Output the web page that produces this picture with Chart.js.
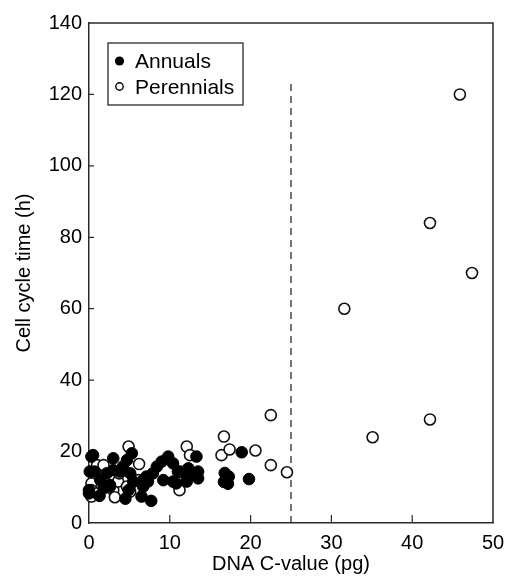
<!DOCTYPE html>
<html>
<head>
<meta charset="utf-8">
<script src="https://cdn.jsdelivr.net/npm/chart.js@4.4.1/dist/chart.umd.min.js"></script>
<style>
  html, body { margin: 0; padding: 0; background: #fff; }
  #wrap { width: 506px; height: 576px; position: relative; }
</style>
</head>
<body>
<div id="wrap"><canvas id="c" width="506" height="576"></canvas></div>
<script>
// ---- data ----
const seriesNames = ['Annuals', 'Perennials'];
const xTitle = 'DNA C-value (pg)';
const yTitle = 'Cell cycle time (h)';
const xRange = [0, 50];
const yRange = [0, 140];
const xStep = 10;
const yStep = 20;
const dividerX = 25;      // dashed threshold line position (pg)
const dividerTop = 124;   // dashed line upper end (h)

const annualsX = [0, 0, 0.5, 0.3, 0.7, 0.1, 1.4, 1.3, 1.8, 2.2, 2.6, 2.6, 3.0, 3.0, 3.8, 4.2,
  4.5, 4.7, 4.9, 5.1, 5.3, 5.5, 6.5, 6.7, 6.7, 7.1, 7.3, 7.7, 7.9, 8.4, 9.0, 9.2, 9.8,
  10.4, 10.4, 10.8, 11.0, 11.3, 12.1, 12.1, 12.3, 12.5, 13.3, 13.5, 13.5,
  16.7, 16.8, 17.3, 16.9, 17.2, 18.9, 19.8];
const annualsY = [8.3, 9.2, 19, 18.6, 14.4, 14.4, 12, 7.6, 9.7, 13.9, 10.6, 10.2, 14.8, 18.1, 14.4, 15.8,
  6.8, 17.6, 9.2, 13.9, 19.5, 11.6, 7.4, 10.2, 12, 13, 11.6, 6.2, 13.9, 15.8, 17.2, 12, 18.6,
  16.7, 11.6, 11.1, 14.4, 14.4, 11.6, 13, 15.3, 13.9, 18.6, 14.4, 12.5,
  11.5, 14, 13, 12, 11, 19.8, 12.3];

const perennialsX = [0.3, 0.3, 0.3, 1.0, 1.0, 1.8, 3.0, 3.2, 3.6, 3.75, 4.7, 4.9, 5.1, 5.5, 6.1, 6.2,
  11.2, 12.1, 12.5, 16.4, 16.7, 17.4, 20.6, 22.5, 22.5, 24.5,
  31.6, 35.1, 42.2, 42.2, 45.9, 47.4];
const perennialsY = [11.1, 9.2, 7.4, 8.3, 16.2, 16.2, 9.2, 7.2, 11.6, 13.9, 10.2, 21.4, 8.8, 11.6, 12, 16.5,
  9.2, 21.4, 19, 19, 24.2, 20.6, 20.3, 16.2, 30.2, 14.2,
  60, 24, 29, 84, 120, 70];

// ---- build chart ----
const toPoints = (xs, ys) => xs.map((x, i) => ({ x: x, y: ys[i] }));
const FONT = "'Liberation Sans', Arial, Helvetica, sans-serif";
const AXIS_COLOR = '#2a2a2a';

const framePlugin = {
  id: 'frame',
  beforeDatasetsDraw(chart) {
    const { ctx, chartArea: a, scales } = chart;
    ctx.save();
    ctx.strokeStyle = AXIS_COLOR;
    ctx.lineWidth = 1.5;
    ctx.beginPath();
    ctx.moveTo(a.left, a.top);
    ctx.lineTo(a.right, a.top);
    ctx.lineTo(a.right, a.bottom);
    ctx.stroke();
    ctx.lineWidth = 1.2;
    ctx.beginPath();
    scales.x.ticks.forEach(t => {
      const px = scales.x.getPixelForValue(t.value);
      if (t.value === xRange[0] || t.value === xRange[1]) return;
      ctx.moveTo(px, a.bottom);
      ctx.lineTo(px, a.bottom - 8);
    });
    scales.y.ticks.forEach(t => {
      const py = scales.y.getPixelForValue(t.value);
      if (t.value === yRange[0] || t.value === yRange[1]) return;
      ctx.moveTo(a.left, py);
      ctx.lineTo(a.left + 5, py);
    });
    ctx.stroke();
    const dx = scales.x.getPixelForValue(dividerX);
    ctx.setLineDash([7, 5]);
    ctx.lineWidth = 1.3;
    ctx.beginPath();
    ctx.moveTo(dx, scales.y.getPixelForValue(0));
    ctx.lineTo(dx, scales.y.getPixelForValue(dividerTop));
    ctx.stroke();
    ctx.restore();
  },
  afterDraw(chart) {
    const { ctx, chartArea: a } = chart;
    const bx = a.left + 19, by = a.top + 20, bw = 135, bh = 62;
    ctx.save();
    ctx.fillStyle = '#fff';
    ctx.fillRect(bx, by, bw, bh);
    ctx.strokeStyle = AXIS_COLOR;
    ctx.lineWidth = 1.3;
    ctx.strokeRect(bx, by, bw, bh);
    ctx.font = "21px " + FONT;
    ctx.fillStyle = '#000';
    ctx.textBaseline = 'alphabetic';
    chart.data.datasets.forEach((ds, i) => {
      const cy = by + 18 + i * 25.5;
      ctx.beginPath();
      if (i === 0) {
        ctx.arc(bx + 11.5, cy, 4.6, 0, Math.PI * 2);
        ctx.fillStyle = '#000';
        ctx.fill();
      } else {
        ctx.arc(bx + 11.5, cy, 3.7, 0, Math.PI * 2);
        ctx.fillStyle = '#fff';
        ctx.fill();
        ctx.lineWidth = 1.4;
        ctx.strokeStyle = '#000';
        ctx.stroke();
      }
      ctx.fillStyle = '#000';
      ctx.fillText(ds.label, bx + 27, cy + 7);
    });
    ctx.restore();
  }
};

new Chart(document.getElementById('c'), {
  type: 'scatter',
  data: {
    datasets: [
      {
        label: seriesNames[0],
        data: toPoints(annualsX, annualsY),
        backgroundColor: '#000',
        borderColor: '#000',
        borderWidth: 1,
        pointRadius: 5.8,
        clip: false
      },
      {
        label: seriesNames[1],
        data: toPoints(perennialsX, perennialsY),
        backgroundColor: '#fff',
        borderColor: '#111',
        borderWidth: 1.6,
        pointRadius: 5.5,
        clip: false
      }
    ]
  },
  options: {
    responsive: false,
    animation: false,
    events: [],
    layout: { padding: { top: 23, right: 13, left: 0, bottom: 0 } },
    plugins: {
      legend: { display: false },
      tooltip: { enabled: false }
    },
    scales: {
      x: {
        type: 'linear',
        min: xRange[0], max: xRange[1],
        ticks: { stepSize: xStep, color: '#000', font: { family: FONT, size: 20 }, padding: 8, maxRotation: 0 },
        grid: { display: false, drawTicks: false },
        border: { display: true, color: AXIS_COLOR, width: 1.5 },
        title: { display: true, text: xTitle, color: '#000', font: { family: FONT, size: 20 }, padding: { top: 0, bottom: 0 } },
        afterFit(s) { s.height = 53; s.paddingLeft = 0; s.paddingRight = 0; }
      },
      y: {
        type: 'linear',
        min: yRange[0], max: yRange[1],
        ticks: { stepSize: yStep, color: '#000', font: { family: FONT, size: 20 }, padding: 7 },
        grid: { display: false, drawTicks: false },
        border: { display: true, color: AXIS_COLOR, width: 1.5 },
        title: { display: true, text: yTitle, color: '#000', font: { family: FONT, size: 20 }, padding: { top: 12, bottom: 0 } },
        afterFit(s) { s.width = 89; s.paddingTop = 0; s.paddingBottom = 0; }
      }
    }
  },
  plugins: [framePlugin]
});
</script>
</body>
</html>
